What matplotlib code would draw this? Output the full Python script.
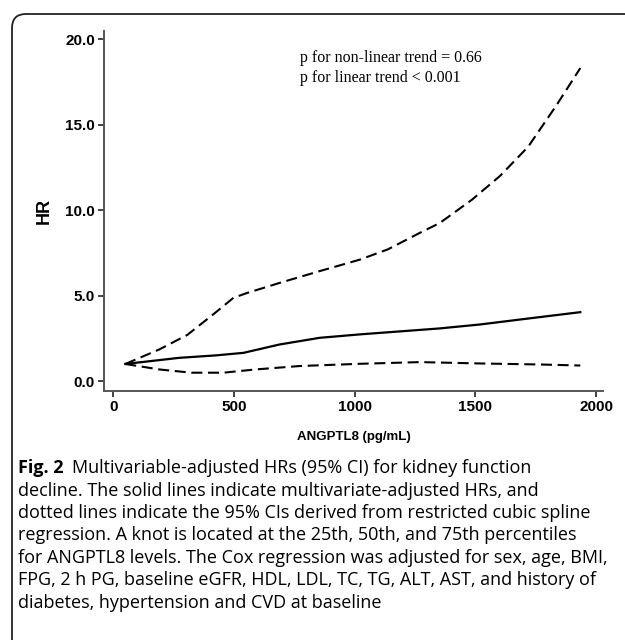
import matplotlib
matplotlib.use("Agg")
import matplotlib.pyplot as plt
from matplotlib.patches import FancyBboxPatch

# spline curve
angptl8 = [50, 191, 307, 423, 498, 556, 689, 855, 1021, 1137, 1270, 1353,
           1485, 1602, 1718, 1834, 1934]
hr_upper = [1.0, 1.85, 2.7, 4.0, 4.87, 5.16, 5.74, 6.43, 7.1, 7.7, 8.67, 9.25,
            10.6, 12.0, 13.7, 16.1, 18.3]

x_hr = [50, 274, 423, 539, 689, 855, 1021, 1353, 1519, 1685, 1934]
hr = [1.0, 1.36, 1.5, 1.65, 2.14, 2.53, 2.73, 3.08, 3.31, 3.6, 4.03]

x_low = [50, 191, 324, 456, 589, 772, 1021, 1270, 1519, 1768, 1934]
hr_lower = [1.0, 0.68, 0.49, 0.49, 0.68, 0.88, 1.01, 1.11, 1.03, 0.97, 0.91]

xticks = [0, 500, 1000, 1500, 2000]
yticks = [0.0, 5.0, 10.0, 15.0, 20.0]

caption = [
    "decline. The solid lines indicate multivariate-adjusted HRs, and",
    "dotted lines indicate the 95% CIs derived from restricted cubic spline",
    "regression. A knot is located at the 25th, 50th, and 75th percentiles",
    "for ANGPTL8 levels. The Cox regression was adjusted for sex, age, BMI,",
    "FPG, 2 h PG, baseline eGFR, HDL, LDL, TC, TG, ALT, AST, and history of",
    "diabetes, hypertension and CVD at baseline",
]

W, H = 625, 640
fig = plt.figure(figsize=(W / 100, H / 100), dpi=100)

# frame with rounded corner, in pixel units
bg = fig.add_axes([0, 0, 1, 1])
bg.set_xlim(0, W)
bg.set_ylim(H, 0)
bg.axis('off')
bg.add_patch(FancyBboxPatch((12, 14), 800, 800,
                            boxstyle="round,pad=0,rounding_size=14",
                            linewidth=1.3, edgecolor='#222222', facecolor='none'))

ax = fig.add_axes([104 / W, 1 - 391 / H, (603 - 104) / W, (391 - 31) / H])
dash = (0, (5.3, 2.7))
ax.plot(angptl8, hr_upper, color='black', lw=1.5, ls=dash)
ax.plot(x_low, hr_lower, color='black', lw=1.5, ls=dash)
ax.plot(x_hr, hr, color='black', lw=1.6)

ax.set_xlim(-38, 2028)
ax.set_ylim(-0.58, 20.47)
ax.set_xticks(xticks)
ax.set_yticks(yticks)
ax.set_yticklabels([f"{v:.1f}" for v in yticks])
for s in ['top', 'right']:
    ax.spines[s].set_visible(False)
for s in ['left', 'bottom']:
    ax.spines[s].set_color('#555555')
    ax.spines[s].set_linewidth(1.4)
ax.tick_params(direction='out', length=4, width=1.2, color='#222222',
               labelsize=11, pad=2.5)
for lab in ax.get_xticklabels() + ax.get_yticklabels():
    lab.set_fontweight('bold')
    lab.set_family('Liberation Sans')
ax.set_ylabel("HR", fontsize=13, fontweight='bold', family='Liberation Sans',
              labelpad=9)
ax.set_xlabel("ANGPTL8 (pg/mL)", fontsize=9.5, fontweight='bold',
              family='Liberation Sans', labelpad=12)

ax.text(300, 68, "p for non-linear trend = 0.66\np for linear trend < 0.001",
        transform=bg.transData, family='Liberation Serif', fontsize=11.5,
        va='center', ha='left', linespacing=1.25)

# caption
cap_font = dict(family='Open Sans', fontsize=13.0, va='center', ha='left')
fig_lab = bg.text(18, 468, "Fig. 2", fontweight='bold', **cap_font)
fig.canvas.draw()
bb = fig_lab.get_window_extent()
x_end = bg.transData.inverted().transform((bb.x1, bb.y0))[0]
bg.text(x_end + 8, 468, "Multivariable-adjusted HRs (95% CI) for kidney function",
        **cap_font)
for i, line in enumerate(caption):
    bg.text(18, 490.5 + 22.4 * i, line, **cap_font)

fig.savefig("out.png", dpi=100)
